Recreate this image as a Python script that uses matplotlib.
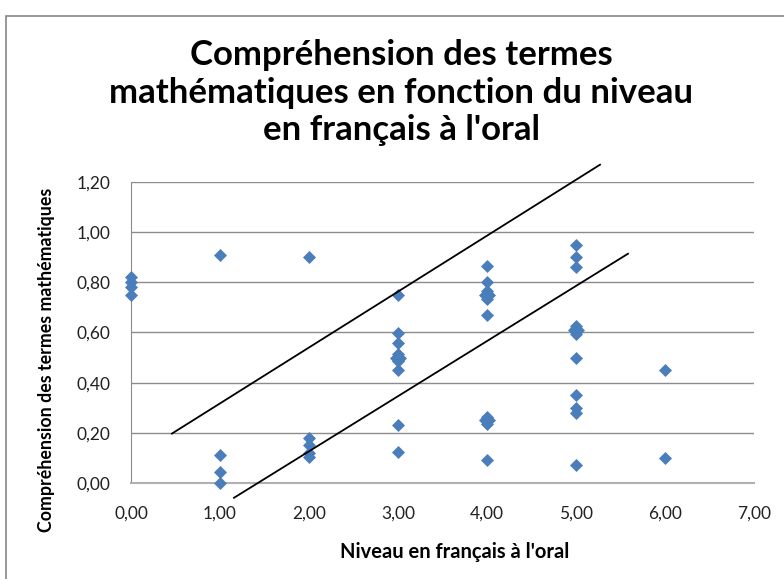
import matplotlib
matplotlib.use("Agg")
import matplotlib.pyplot as plt
from matplotlib.ticker import FuncFormatter, MultipleLocator
from matplotlib.patches import Rectangle

plt.rcParams['font.family'] = ['Lato', 'DejaVu Sans']

# Data: niveau (x) and compréhension (y)
niveau = [0, 0, 0, 0,
          1, 1, 1, 1,
          2, 2, 2, 2, 2,
          3, 3, 3, 2.98, 3.02, 3.0, 3.0, 3, 3, 3,
          4, 4, 3.98, 4.02, 4.0, 4.0, 4, 3.98, 4.02, 4.0, 4.0, 4,
          5, 5, 5, 4.98, 5.02, 5.0, 5.0, 5, 5, 5, 5, 5,
          6, 6]
comprehension = [0.82, 0.80, 0.78, 0.75,
                 0.91, 0.11, 0.045, 0.0,
                 0.90, 0.18, 0.15, 0.12, 0.105,
                 0.75, 0.60, 0.56, 0.50, 0.50, 0.515, 0.485, 0.45, 0.23, 0.125,
                 0.865, 0.80, 0.75, 0.75, 0.765, 0.735, 0.67, 0.25, 0.25, 0.265, 0.235, 0.09,
                 0.95, 0.90, 0.86, 0.61, 0.61, 0.625, 0.595, 0.50, 0.35, 0.30, 0.28, 0.07,
                 0.45, 0.10]

# Hand-drawn guide lines (data coordinates)
upper_line_x = [0.46, 5.27]
upper_line_y = [0.197, 1.269]
lower_line_x = [1.157, 5.584]
lower_line_y = [-0.059, 0.914]

title_lines = ["Compréhension des termes",
               "mathématiques en fonction du niveau",
               "en français à l'oral"]
xlabel = "Niveau en français à l'oral"
ylabel = "Compréhension des termes mathématiques"

W, H = 784, 579
fig = plt.figure(figsize=(W / 100, H / 100), dpi=100)
fig.patch.set_facecolor('white')

# outer chart border
fig.patches.append(Rectangle((6 / W, -0.05), 1.1, (H - 16) / H + 0.05, transform=fig.transFigure,
                             fill=False, edgecolor='#868686', linewidth=1.2))

ax = fig.add_axes([131 / W, 1 - 483 / H, (754 - 131) / W, (483 - 182) / H])
ax.set_xlim(0, 7)
ax.set_ylim(0, 1.2)
ax.xaxis.set_major_locator(MultipleLocator(1))
ax.yaxis.set_major_locator(MultipleLocator(0.2))
fmt = FuncFormatter(lambda v, p: f"{v:.2f}".replace('.', ','))
ax.xaxis.set_major_formatter(fmt)
ax.yaxis.set_major_formatter(fmt)
ax.grid(axis='y', color='#8c8c8c', linewidth=1.0)
ax.set_axisbelow(True)
for s in ['top', 'right']:
    ax.spines[s].set_visible(False)
ax.spines['left'].set_color('#8c8c8c')
ax.spines['bottom'].set_color('#b0b0b0')
ax.spines['bottom'].set_linewidth(1.5)
ax.tick_params(length=0, labelsize=12.5, colors='#222222')
ax.tick_params(axis='y', pad=15)
ax.tick_params(axis='x', pad=16)

ax.scatter(niveau, comprehension, marker='D', s=44, color='#4a7ebb', linewidths=0, zorder=3, clip_on=False)

ax.plot(upper_line_x, upper_line_y, color='black', linewidth=1.3, clip_on=False, zorder=4)
ax.plot(lower_line_x, lower_line_y, color='black', linewidth=1.3, clip_on=False, zorder=4)

ax.set_xlabel(xlabel, fontsize=14.5, fontweight='bold')
ax.set_ylabel(ylabel, fontsize=12.8, fontweight='bold')
ax.xaxis.label.set_va('baseline')
ax.xaxis.set_label_coords((455 - 131) / 623, (483 - 558) / 301)
ax.yaxis.label.set_va('center')
ax.yaxis.set_label_coords((47 - 131) / 623, (483 - 360) / 301)

baselines = [65, 103, 140]
for line, b in zip(title_lines, baselines):
    fig.text(401 / W, 1 - b / H, line, ha='center', va='baseline', fontsize=25, fontweight='bold')

fig.savefig('out.png', dpi=100)
